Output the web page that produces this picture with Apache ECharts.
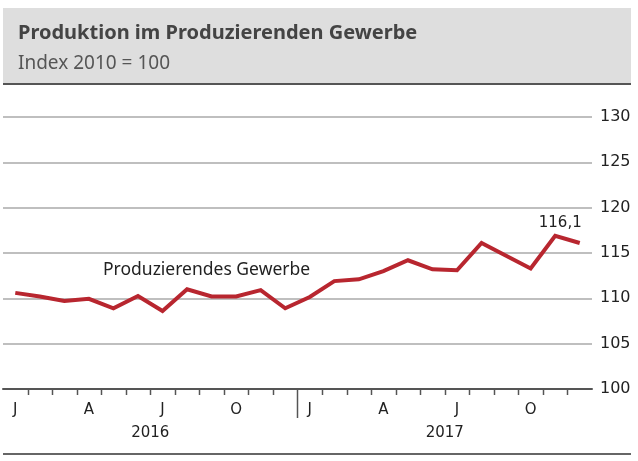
<!DOCTYPE html>
<html>
<head>
<meta charset="utf-8">
<script src="https://cdn.jsdelivr.net/npm/echarts@6/dist/echarts.min.js"></script>
<style>
  html, body { margin: 0; padding: 0; background: #fff; }
  #chart { width: 638px; height: 461px; }
</style>
</head>
<body>
<div id="chart"></div>
<script>
// Produktion im Produzierenden Gewerbe, Index 2010 = 100, Jan 2016 - Dec 2017
var monthLetters = ['J', 'F', 'M', 'A', 'M', 'J', 'J', 'A', 'S', 'O', 'N', 'D'];
var years = ['2016', '2017'];
var months = [];
years.forEach(function (y) {
    monthLetters.forEach(function (m) { months.push(m); });
});

var productionValues = [
    110.6, 110.2, 109.7, 109.95, 108.9, 110.25, 108.6, 111.0, 110.2, 110.2, 110.9, 108.9,
    110.15, 111.9, 112.1, 113.0, 114.2, 113.2, 113.1, 116.1, 114.7, 113.3, 116.9, 116.1
];
var lastLabel = '116,1';
var yTicks = { min: 100, max: 130, step: 5 };

var tickBoundaries = [];
for (var k = 1; k < months.length; k++) {
    tickBoundaries.push([k, yTicks.min]);
}

var RED = '#b8262f';
var TEXT = '#222';
var FONT = 'DejaVu Sans';

var chart = echarts.init(document.getElementById('chart'));

var lineData = productionValues.map(function (v, i) {
    if (i === productionValues.length - 1) {
        return {
            value: v,
            label: {
                show: true,
                position: 'top',
                align: 'right',
                distance: 12,
                offset: [2, 0],
                formatter: lastLabel,
                color: TEXT,
                fontFamily: FONT,
                fontSize: 15
            }
        };
    }
    return v;
});

function renderTick(params, api) {
    var idx = api.value(0);
    var p = api.coord([idx, yTicks.min]);
    var w = api.size([1, 0])[0];
    var x = Math.round(p[0] - w / 2) + 0.5;
    var len = idx === monthLetters.length ? 29 : 6;
    return {
        type: 'line',
        shape: { x1: x, y1: p[1], x2: x, y2: p[1] + len },
        style: { stroke: '#555', lineWidth: 1.5 }
    };
}

var option = {
    backgroundColor: '#fff',
    animation: false,
    textStyle: { fontFamily: FONT },
    graphic: [
        { type: 'rect', shape: { x: 3, y: 8, width: 628, height: 76 }, style: { fill: '#dedede' }, z: -1 },
        { type: 'rect', shape: { x: 3, y: 83, width: 628, height: 2 }, style: { fill: '#555' } },
        { type: 'text', left: 18, top: 23, style: { text: 'Produktion im Produzierenden Gewerbe', fill: '#444', font: 'bold 20px "Noto Sans"' } },
        { type: 'text', left: 18, top: 54, style: { text: 'Index 2010 = 100', fill: '#555', font: '19px "Noto Sans"' } },
        { type: 'rect', shape: { x: 3, y: 453, width: 628, height: 2 }, style: { fill: '#666' } },
        { type: 'text', left: 103, top: 261, style: { text: 'Produzierendes Gewerbe', fill: TEXT, font: '17.5px "Noto Sans"' } }
    ],
    grid: { left: 3, right: 46, top: 117, bottom: 72 },
    xAxis: [
        {
            type: 'category',
            data: months,
            boundaryGap: true,
            position: 'bottom',
            axisLine: { show: true, lineStyle: { color: '#555', width: 2 } },
            axisTick: { show: false },
            axisLabel: {
                interval: function (i) { return i % 3 === 0; },
                margin: 14,
                color: TEXT,
                fontFamily: FONT,
                fontSize: 15
            },
            splitLine: { show: false }
        },
        {
            type: 'category',
            data: years,
            boundaryGap: true,
            position: 'bottom',
            axisLine: { show: false },
            axisTick: { show: false },
            axisLabel: { margin: 37, color: TEXT, fontFamily: FONT, fontSize: 15 },
            splitLine: { show: false }
        }
    ],
    yAxis: {
        type: 'value',
        position: 'right',
        min: yTicks.min,
        max: yTicks.max,
        interval: yTicks.step,
        axisLine: { show: false },
        axisTick: { show: false },
        axisLabel: { margin: 8, color: TEXT, fontFamily: FONT, fontSize: 16 },
        splitLine: { show: true, lineStyle: { color: '#aaa', width: 1.5 } }
    },
    series: [
        {
            type: 'line',
            data: lineData,
            showSymbol: true,
            symbol: 'circle',
            symbolSize: 0,
            lineStyle: { color: RED, width: 4, join: 'miter' },
            itemStyle: { color: RED },
            z: 3
        },
        {
            type: 'custom',
            data: tickBoundaries,
            renderItem: renderTick,
            clip: false,
            silent: true,
            z: 4
        }
    ]
};

chart.setOption(option);
</script>
</body>
</html>
